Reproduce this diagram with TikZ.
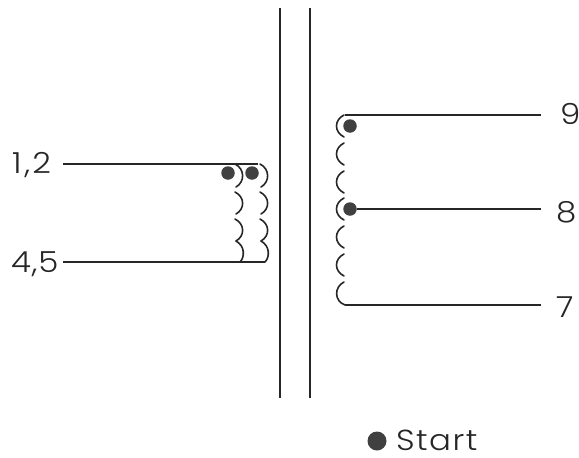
\documentclass[tikz,border=0pt]{standalone}
\usepackage{fontspec}
\setmainfont{Poppins Light}[FakeStretch=1.12,LetterSpace=3]
\tikzset{
  wire/.style={line width=1.6pt,black!85},
  coil/.style={line width=1.6pt,black!85,line cap=round},
  startdot/.style={circle,fill=black!75,inner sep=0pt,minimum size=13.5pt},
  pin/.style={inner sep=0pt,text=black!85,text height=20pt,text depth=0pt,font=\fontsize{29}{29}\selectfont}
}
\begin{document}
\begin{tikzpicture}[x=1pt,y=-1pt]
\useasboundingbox (0,0) rectangle (579,458);
% core
\coordinate (c1t) at (280,8); \coordinate (c1b) at (280,398);
\coordinate (c2t) at (310,8); \coordinate (c2b) at (310,398);
\draw[wire] (c1t) -- (c1b);
\draw[wire] (c2t) -- (c2b);
% labels
\node[pin,anchor=base west] (p12) at (12,173) {1\kern3pt,\kern2pt2};
\node[pin,anchor=base west] (p45) at (11,272) {4,5};
\node[pin,anchor=base west] (p9) at (560,124) {9};
\node[pin,anchor=base west] (p8) at (556,222) {8};
\node[pin,anchor=base west] (p7) at (556,317) {7};
% dots
\node[startdot] (d1) at (228,173) {};
\node[startdot] (d2) at (252,173) {};
\node[startdot] (d3) at (350,126) {};
\node[startdot] (d4) at (350,209) {};
\node[startdot,minimum size=19pt] (d5) at (377,441) {};
\node[pin,anchor=base west,font=\fontsize{29}{29}\selectfont\addfontfeature{LetterSpace=5}] (st) at (396,450) {Start};
% wires
\coordinate (la) at (258,164); \coordinate (lb) at (265,262);
\coordinate (ra) at (345,115); \coordinate (rb) at (345,305);
\coordinate (e9) at (541,115); \coordinate (e8) at (541,209); \coordinate (e7) at (541,305);
\draw[wire] (63,164) -- (la);
\draw[wire] (63,262) -- (lb);
\draw[wire] (ra) -- (e9);
\draw[wire] (d4) -- (e8);
\draw[wire] (rb) -- (e7);
% left windings
\foreach \dx in {0,25}{
  \begin{scope}[xshift=\dx pt]
  \draw[coil] (235,164) .. controls (245,169) and (245,182) .. (236,187);
  \draw[coil] (235,192) .. controls (245,197) and (245,209) .. (236,214);
  \draw[coil] (235,219) .. controls (245,224) and (245,236) .. (236,241);
  \draw[coil] (236,241) .. controls (245,246) and (245,257) .. (240,262);
  \end{scope}
}
% right winding
\foreach \y in {115,143,171,198,226,254}{
  \draw[coil] (344,\y) .. controls (334,\y+5) and (334,\y+17) .. (344,\y+22);
}
\draw[coil] (344,282) .. controls (334,287) and (334,301) .. (345,305);
\end{tikzpicture}
\end{document}
